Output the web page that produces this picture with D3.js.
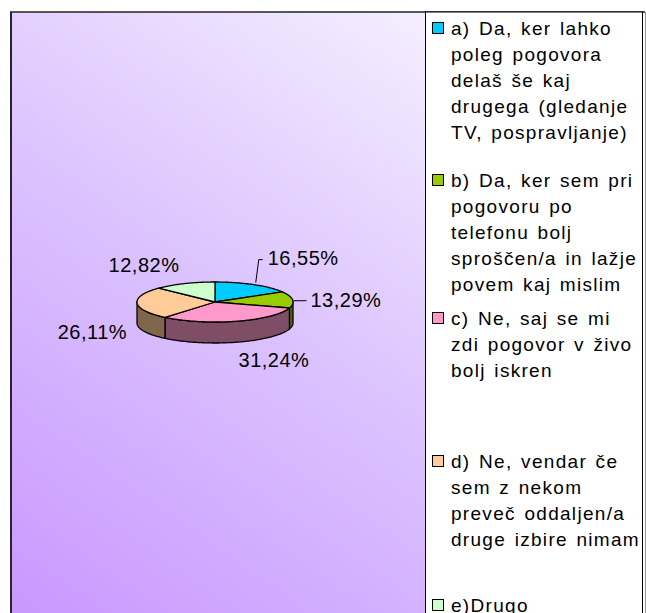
<!DOCTYPE html>
<html>
<head>
<meta charset="utf-8">
<script src="https://d3js.org/d3.v7.min.js"></script>
<style>
  body { margin: 0; background: #fff; }
  svg text { font-family: "Liberation Sans", Arial, sans-serif; fill: #000; }
</style>
</head>
<body>
<svg></svg>
<script>
// data
var categories = ["a", "b", "c", "d", "e"];
var values = [16.55, 13.29, 31.24, 26.11, 12.82];
var valueLabels = ["16,55%", "13,29%", "31,24%", "26,11%", "12,82%"];
var legendLines = [
	["a) Da, ker lahko", "poleg pogovora", "delaš še kaj", "drugega (gledanje", "TV, pospravljanje)"],
	["b) Da, ker sem pri", "pogovoru po", "telefonu bolj", "sproščen/a in lažje", "povem kaj mislim"],
	["c) Ne, saj se mi", "zdi pogovor v živo", "bolj iskren"],
	["d) Ne, vendar če", "sem z nekom", "preveč oddaljen/a", "druge izbire nimam"],
	["e)Drugo"]
];

// styling / layout
var width = 646;
var height = 613;
var topColors = ["#00ccff", "#99cc00", "#ff99cc", "#ffcc99", "#ccffcc"];
var sideColors = ["#00667f", "#4d6600", "#7f4d66", "#80664d", "#667f66"];
var cx = 215, cy = 302, rx = 78, ry = 20, depth = 21;
var plotLeft = 10, plotTop = 12, legendLeft = 425, legendRight = 642;
// label offsets from the slice mid point on the rim
var labelNudge = [[14, -20, "start"], [18, 7, "start"], [37, 25, "middle"], [-10, 15, "end"], [-5, -12, "end"]];
// baseline of the first line of each legend entry
var legendY = [35, 187, 325, 468, 612];
var lineH = 26;

var svg = d3.select('svg')
	.attr("width", width)
	.attr("height", height);

var defs = svg.append('defs');
var grad = defs.append('linearGradient')
	.attr('id', 'bg')
	.attr('gradientUnits', 'userSpaceOnUse')
	.attr('x1', plotLeft).attr('y1', 650)
	.attr('x2', 450).attr('y2', plotTop);
grad.append('stop').attr('offset', 0).attr('stop-color', '#c894ff');
grad.append('stop').attr('offset', 0.55).attr('stop-color', '#dcc4fe');
grad.append('stop').attr('offset', 1).attr('stop-color', '#f6f0ff');

// plot area
svg.append('rect')
	.attr('x', plotLeft).attr('y', plotTop)
	.attr('width', legendLeft - plotLeft).attr('height', height)
	.attr('fill', 'url(#bg)');

// outer frame
svg.append('line').attr('x1', plotLeft).attr('y1', plotTop).attr('x2', 645).attr('y2', plotTop)
	.attr('stroke', '#222').attr('stroke-width', 1.5);
svg.append('line').attr('x1', plotLeft + 1).attr('y1', plotTop).attr('x2', plotLeft + 1).attr('y2', height)
	.attr('stroke', '#2a2233').attr('stroke-width', 2);
svg.append('line').attr('x1', 645.5).attr('y1', plotTop).attr('x2', 645.5).attr('y2', height)
	.attr('stroke', '#999').attr('stroke-width', 1);

// pie
var pie = d3.pie().sort(null).value(d => d)
	.startAngle(0).endAngle(2 * Math.PI);
var arcs = pie(values);

var px = a => cx + rx * Math.sin(a);
var py = a => cy - ry * Math.cos(a);

var topPath = function(d){
	var pts = d3.range(d.startAngle, d.endAngle, 0.02).concat([d.endAngle]);
	var p = "M" + cx + "," + cy;
	pts.forEach(a => p += "L" + px(a) + "," + py(a));
	return p + "Z";
};

var sidePath = function(d){
	var a0 = Math.max(d.startAngle, Math.PI / 2);
	var a1 = Math.min(d.endAngle, 3 * Math.PI / 2);
	if (a1 <= a0) return null;
	var pts = d3.range(a0, a1, 0.02).concat([a1]);
	var p = "";
	pts.forEach((a, i) => p += (i ? "L" : "M") + px(a) + "," + py(a));
	pts.slice().reverse().forEach(a => p += "L" + px(a) + "," + (py(a) + depth));
	return p + "Z";
};

var pieG = svg.append('g');

pieG.selectAll('path.side')
	.data(arcs.filter(d => sidePath(d)))
	.enter().append('path')
	.attr('class', 'side')
	.attr('d', sidePath)
	.attr('fill', d => sideColors[d.index])
	.attr('stroke', '#000')
	.attr('stroke-width', 1.3)
	.attr('stroke-linejoin', 'round');

pieG.selectAll('path.top')
	.data(arcs)
	.enter().append('path')
	.attr('class', 'top')
	.attr('d', topPath)
	.attr('fill', d => topColors[d.index])
	.attr('stroke', '#000')
	.attr('stroke-width', 1.3)
	.attr('stroke-linejoin', 'round');

// labels
var midPoint = function(d){
	var a = (d.startAngle + d.endAngle) / 2;
	var y = py(a);
	if (Math.cos(a) < 0) y += depth;
	return [px(a), y];
};

pieG.selectAll('text.lbl')
	.data(arcs)
	.enter().append('text')
	.attr('class', 'lbl')
	.attr('x', d => midPoint(d)[0] + labelNudge[d.index][0])
	.attr('y', d => midPoint(d)[1] + labelNudge[d.index][1])
	.attr('text-anchor', d => labelNudge[d.index][2])
	.attr('font-size', 20)
	.attr('letter-spacing', 0.5)
	.text(d => valueLabels[d.index]);

// leader lines for the two small right-hand slices
var ma = midPoint(arcs[0]);
pieG.append('path')
	.attr('d', "M" + (ma[0] + 2) + "," + (ma[1] - 2) + "L" + (ma[0] + 5) + "," + (ma[1] - 25) + "L" + (ma[0] + 9) + "," + (ma[1] - 25))
	.attr('fill', 'none').attr('stroke', '#000').attr('stroke-width', 1);
var mb = midPoint(arcs[1]);
pieG.append('path')
	.attr('d', "M" + (mb[0] + 1) + "," + (mb[1] + 1) + "L" + (mb[0] + 14) + "," + (mb[1] + 1))
	.attr('fill', 'none').attr('stroke', '#000').attr('stroke-width', 1);

// legend
svg.append('rect')
	.attr('x', legendLeft + 0.5).attr('y', plotTop)
	.attr('width', legendRight - legendLeft).attr('height', height)
	.attr('fill', '#fff')
	.attr('stroke', '#000').attr('stroke-width', 1);

var items = svg.selectAll('g.leg')
	.data(categories)
	.enter().append('g')
	.attr('class', 'leg')
	.attr('transform', (d, i) => "translate(" + legendLeft + "," + legendY[i] + ")");

items.append('rect')
	.attr('x', 7.5).attr('y', -12.5)
	.attr('width', 11).attr('height', 11)
	.attr('fill', (d, i) => topColors[i])
	.attr('stroke', '#000').attr('stroke-width', 1);

items.each(function(d, i){
	var t = d3.select(this).append('text')
		.attr('font-size', 19)
		.attr('letter-spacing', 1.3)
		.attr('word-spacing', 2);
	t.selectAll('tspan')
		.data(legendLines[i])
		.enter().append('tspan')
		.attr('x', 26)
		.attr('y', (s, j) => j * lineH)
		.text(s => s);
});
</script>
</body>
</html>
